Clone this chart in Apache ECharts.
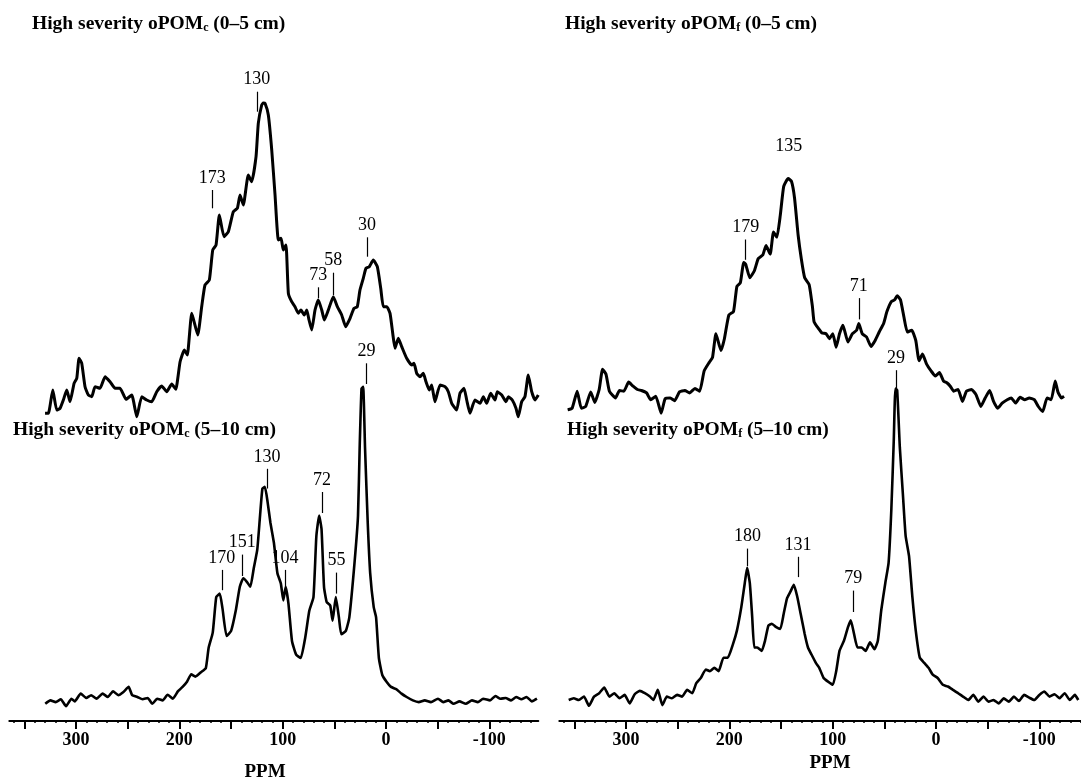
<!DOCTYPE html>
<html>
<head>
<meta charset="utf-8">
<script src="https://cdn.jsdelivr.net/npm/echarts@6/dist/echarts.min.js"></script>
<style>
  html, body { margin: 0; padding: 0; background: #fff; }
  #main { width: 1081px; height: 783px; }
</style>
</head>
<body>
<div id="main"></div>
<script>
// ppm axis (reversed, shared by both columns)
const ppmMin = -147.4;
const ppmMax = 364.6;
const majorTicks = [350, 300, 250, 200, 150, 100, 50, 0, -50, -100];
const labelTicks = [300, 200, 100, 0, -100];
const minorTicks = [];
for (let v = 360; v >= -140; v -= 10) minorTicks.push(v);

// High severity oPOMc (0-5 cm), intensity in arbitrary units
const tlPpm = [330.0, 326.8, 322.5, 318.7, 315.5, 312.3, 309.0, 305.8, 301.9, 299.3,
  297.1, 294.5, 291.3, 288.1, 284.8, 281.6, 276.8, 271.9, 267.1, 262.2,
  257.4, 251.6, 246.1, 241.2, 236.4, 231.6, 226.7, 221.9, 217.1, 212.2,
  207.4, 203.5, 199.3, 195.2, 192.3, 188.0, 182.2, 178.4, 175.2, 171.0,
  167.7, 164.5, 161.3, 156.8, 152.6, 147.8, 143.9, 141.3, 138.1, 133.3,
  130.0, 125.8, 123.6, 120.3, 118.7, 117.1, 113.9, 110.6, 107.4, 104.2,
  101.6, 99.4, 96.8, 94.5, 91.3, 88.1, 84.9, 82.3, 79.1, 76.7,
  74.5, 71.9, 68.7, 65.5, 62.2, 59.7, 55.8, 51.0, 47.1, 42.9,
  39.0, 34.8, 31.0, 27.8, 25.2, 22.0, 19.4, 16.2, 12.3, 8.4,
  5.1, 2.6, -0.7, -3.9, -6.5, -8.7, -11.9, -15.2, -20.0, -24.9,
  -27.1, -29.7, -32.9, -36.1, -38.7, -41.9, -44.2, -47.4, -52.3, -57.1,
  -60.3, -63.6, -68.4, -71.6, -75.5, -78.1, -81.3, -86.1, -91.0, -94.2,
  -97.4, -101.3, -105.5, -107.7, -112.0, -116.1, -118.4, -122.2, -125.8, -128.0,
  -131.3, -134.5, -137.7, -141.0, -144.2, -147.4];
const tlInt = [6.7, 6.7, 30, 10, 11.7, 20, 30, 18.3, 36.7, 41.7,
  61.7, 56.7, 33.3, 25, 23.3, 33.3, 31.7, 43.3, 38.3, 31.7,
  31.7, 20.7, 25, 3.3, 23.3, 20, 18.3, 28.3, 34, 28.3,
  36, 30.7, 58.3, 70, 65, 106.7, 85, 113.3, 135, 140,
  170, 175, 205, 183.3, 188.3, 208.3, 211.7, 225, 215, 245,
  238.3, 263.3, 296.7, 315, 317, 316.7, 305, 270, 225, 180,
  181.7, 170, 175, 126.7, 118.3, 113.3, 106.7, 110, 105, 110,
  100, 90, 110, 120, 110, 100, 110, 123.3, 113.3, 105,
  93.3, 101.7, 111.7, 113.3, 130, 141.7, 151.7, 153.3, 160, 153.3,
  131.7, 113.3, 113.3, 106.7, 86.7, 71.7, 81.7, 73.3, 61.7, 55,
  56.7, 46.7, 43.3, 46.7, 38.3, 30, 35, 18.3, 35, 33.3,
  28.3, 16.7, 10, 26.7, 31.7, 20, 6.7, 20, 16.7, 23.3,
  16.7, 26.7, 20, 28.3, 25, 18.3, 23.3, 20, 11.7, 3.3,
  18.3, 23.3, 45, 28.3, 20, 25];

// High severity oPOMc (5-10 cm)
const blPpm = [329.8, 324.8, 319.7, 314.7, 309.7, 304.5, 301.2, 295.5, 290.1, 285.4,
  280.1, 274.3, 269.2, 264.2, 259.1, 254.1, 249.1, 245.7, 240.7, 235.6,
  230.6, 226.2, 221.5, 216.1, 211.4, 206.3, 201.3, 196.9, 192.6, 188.5,
  184.5, 179.1, 174.4, 171.7, 167.7, 164.3, 160.9, 158.2, 154.3, 149.9,
  145.4, 141.5, 138.1, 134.7, 131.3, 128.0, 124.6, 121.9, 119.6, 117.2,
  114.6, 111.9, 108.5, 105.1, 101.8, 99.4, 97.1, 94.4, 91.0, 87.0,
  82.5, 78.2, 74.2, 70.2, 67.4, 64.7, 62.4, 60.0, 57.4, 54.0,
  51.7, 48.6, 45.6, 43.3, 38.9, 35.5, 30.5, 27.1, 25.5, 23.7,
  22.1, 20.3, 17.7, 15.3, 11.9, 9.6, 6.9, 3.6, -0.5, -4.8,
  -9.9, -15.0, -20.0, -26.0, -31.7, -37.5, -43.5, -50.3, -55.4, -60.4,
  -65.4, -71.1, -77.2, -83.2, -88.9, -94.0, -100.7, -105.8, -110.8, -115.8,
  -121.0, -126.0, -131.0, -136.1, -141.1, -146.1];
const blInt = [17.2, 20.6, 18.9, 21.7, 14.8, 22.3, 19.6, 27.4, 23.0, 25.8,
  22.3, 27.4, 24.0, 29.8, 25.8, 29.1, 34.1, 25.8, 24.0, 21.7,
  23.0, 17.2, 22.3, 20.6, 26.3, 22.3, 29.8, 34.1, 39.3, 46.7,
  44.4, 48.8, 52.9, 73.1, 88.4, 123.9, 127.4, 112.1, 85.0, 90.1,
  110.4, 134.2, 142.7, 139.2, 134.2, 152.8, 171.4, 205.4, 232.5, 234.1,
  218.9, 198.5, 178.2, 147.7, 137.6, 120.6, 134.2, 117.2, 80.0, 66.4,
  63.0, 83.3, 110.4, 123.9, 185.0, 205.4, 191.8, 134.2, 118.9, 115.6,
  100.2, 123.9, 103.7, 86.7, 90.1, 103.7, 157.9, 205.4, 273.1, 332.4,
  334.1, 273.1, 198.5, 147.7, 113.8, 103.7, 63.0, 46.0, 39.3, 34.1,
  31.8, 27.4, 24.0, 20.6, 18.9, 20.6, 18.9, 22.3, 18.9, 20.6,
  17.2, 19.6, 17.2, 20.6, 18.9, 22.3, 20.6, 25.0, 22.3, 23.0,
  20.6, 24.0, 21.7, 24.0, 19.6, 22.3];

// High severity oPOMf (0-5 cm)
const trPpm = [356.5, 352.2, 347.3, 343.3, 339.1, 334.2, 330.3, 326.0, 322.7, 319.4,
  316.1, 310.2, 306.4, 302.1, 297.5, 293.2, 289.0, 285.1, 280.1, 276.2,
  271.2, 266.0, 262.2, 257.2, 253.0, 248.3, 243.1, 238.5, 233.3, 228.7,
  224.4, 219.5, 216.3, 213.0, 208.1, 204.8, 200.5, 196.0, 192.7, 189.4,
  186.1, 184.2, 180.2, 175.9, 172.0, 167.7, 164.5, 160.5, 157.3, 154.0,
  150.7, 147.4, 143.1, 139.9, 136.9, 133.4, 130.3, 127.1, 122.8, 119.6,
  118.0, 113.7, 110.4, 106.4, 103.2, 99.9, 96.6, 93.4, 90.1, 85.2,
  80.9, 76.9, 74.7, 71.4, 67.2, 62.9, 58.9, 55.0, 50.7, 47.5,
  43.2, 40.0, 37.6, 34.4, 31.1, 27.8, 23.5, 19.6, 16.4, 13.1,
  9.1, 4.8, 0.6, -3.3, -7.3, -10.5, -13.8, -17.1, -21.4, -25.6,
  -29.5, -34.4, -38.7, -43.4, -47.6, -51.9, -55.7, -59.7, -64.0, -68.9,
  -72.8, -77.0, -81.3, -85.9, -90.2, -95.1, -99.0, -103.3, -107.5, -111.5,
  -115.4, -118.0, -121.4, -123.9];
const trInt = [10.1, 11.8, 28.8, 11.8, 13.5, 28.1, 17.6, 30.5, 50.8, 45.7,
  28.8, 22, 29.5, 28.8, 37.9, 33.8, 30.5, 29.5, 27.1, 20.3,
  23.7, 6.8, 21.3, 22, 19.3, 28.1, 29.5, 27.1, 31.5, 28.8,
  49.1, 57.6, 62.6, 86.3, 69.4, 81.3, 105, 108.4, 133.7, 137.1,
  157.5, 155.8, 142.2, 149, 161.5, 164.9, 174.4, 165.9, 187.9, 182.9,
  204.9, 233.6, 241.4, 238.7, 221.8, 184.5, 160.8, 142.2, 135.4, 113.4,
  98.2, 91.4, 87, 86.3, 81.3, 86.3, 72.8, 86.3, 94.8, 77.9,
  86.3, 89.7, 96.5, 86.3, 83, 73.5, 79.6, 88, 96.5, 108.4,
  118.5, 120.2, 124.3, 120.2, 103.3, 88, 89.7, 79.6, 59.3, 66,
  55.9, 49.1, 44, 47.4, 38.9, 37.2, 33.8, 28.8, 30.5, 18.6,
  28.8, 30.5, 25.4, 13.5, 22, 29.5, 18.6, 11.8, 16.9, 20.3,
  22, 16.9, 22.7, 20.3, 22, 20.3, 13.5, 8.5, 22, 20.3,
  38.9, 28.1, 22, 23.7];

// High severity oPOMf (5-10 cm)
const brPpm = [355.5, 350.6, 345.7, 340.7, 335.9, 331.0, 326.0, 321.1, 316.1, 311.3,
  306.4, 301.4, 296.5, 291.6, 286.7, 281.8, 276.9, 273.6, 269.3, 264.8,
  260.5, 255.6, 250.6, 245.7, 240.9, 235.9, 232.0, 227.7, 222.8, 218.9,
  214.6, 210.4, 205.7, 201.5, 196.5, 192.7, 188.4, 185.1, 182.8, 180.2,
  177.9, 175.9, 173.0, 168.7, 165.5, 162.2, 158.9, 154.6, 150.7, 147.4,
  144.2, 140.9, 137.6, 134.3, 131.0, 127.1, 123.9, 120.6, 116.3, 113.0,
  108.8, 104.8, 99.9, 96.6, 93.4, 89.1, 85.2, 82.5, 79.3, 76.0,
  72.1, 68.1, 63.9, 59.6, 56.3, 53.0, 49.1, 45.9, 43.2, 40.9,
  39.3, 37.6, 35.0, 32.0, 29.4, 26.1, 22.9, 19.6, 15.7, 11.4,
  7.2, 3.2, -1.6, -6.6, -11.5, -16.5, -21.4, -26.2, -31.2, -36.1,
  -41.0, -46.0, -50.8, -55.7, -60.7, -65.6, -70.5, -75.4, -80.3, -85.3,
  -90.2, -95.1, -100.0, -104.9, -109.8, -114.8, -119.6, -124.5, -129.5, -134.4,
  -137.7];
const brInt = [21, 22.7, 21, 24.4, 15.2, 24.4, 27.8, 33.5, 24.4, 27.8,
  22.7, 26.1, 17.6, 26.8, 30.1, 27.8, 24.4, 21, 31.1, 15.9,
  24.4, 22.7, 26.1, 24.4, 31.1, 27.8, 37.9, 43, 51.5, 49.8,
  53.2, 49.8, 63.3, 63.3, 76.9, 90.4, 114.1, 137.8, 153.1, 137.8,
  104, 73.5, 73.5, 70.1, 80.2, 95.5, 97.2, 93.8, 92.1, 107.3,
  122.6, 129.3, 136.1, 124.3, 107.3, 87, 73.5, 66.7, 58.2, 53.2,
  43, 39.6, 36.2, 49.8, 70.1, 80.2, 93.8, 100.6, 87, 73.5,
  73.5, 70.1, 78.6, 71.8, 80.2, 110.7, 137.8, 158.1, 212.3, 280,
  332.5, 330.8, 273.3, 225.9, 185.2, 164.9, 124.3, 90.4, 63.3, 58.2,
  53.2, 46.4, 43, 36.2, 34.5, 31.1, 27.8, 24.4, 21, 26.1,
  19.3, 24.4, 19.3, 21, 17.6, 22.7, 19.3, 24.4, 20, 26.1,
  23.4, 21, 26.1, 29.5, 24.4, 26.8, 22.7, 27.8, 21, 26.1,
  21];

// peak labels: [text, ppm, tick bottom, tick top]
const tlPeaks = [['130', 125.1, 308.3, 328.3], ['173', 168.1, 211.7, 230], ['73', 65.5, 121.7, 132.7],
  ['58', 51.0, 125, 147.3], ['30', 18.4, 163.3, 182.7]];
const blPeaks = [['170', 158.9, 130.8, 151.1], ['151', 139.1, 145.0, 166.4], ['130', 115.2, 232.5, 252.2],
  ['104', 97.7, 134.2, 151.1], ['72', 62.0, 208.0, 229.0], ['55', 47.9, 127.4, 148.4], ['29', 18.9, 337, 357.7]];
const trPeaks = [['179', 184.2, 160.2, 180.5], ['135', 142.5, 258, 262], ['71', 74.7, 100.6, 121.9]];
const brPeaks = [['180', 182.5, 154.8, 172.4], ['131', 133.6, 143.9, 164.2], ['79', 80.2, 109, 130.4],
  ['29', 38.6, 329.8, 350.8]];
const noTick = ['135'];

const serif = 'Liberation Serif';

function pair(ppm, val) {
  return ppm.map(function (p, i) { return [p, val[i]]; });
}

function peakLines(peaks) {
  return peaks.map(function (p) {
    const hide = noTick.indexOf(p[0]) >= 0;
    return [
      { name: p[0], coord: [p[1], p[2]], lineStyle: { color: hide ? 'rgba(0,0,0,0)' : '#000' } },
      { name: p[0], coord: [p[1], p[3]] }
    ];
  });
}

function spectrum(idx, ppm, val, peaks, width) {
  return {
    type: 'line',
    xAxisIndex: idx,
    yAxisIndex: idx,
    data: pair(ppm, val),
    showSymbol: false,
    smooth: 0.15,
    silent: true,
    lineStyle: { color: '#000', width: width },
    itemStyle: { color: '#000' },
    markLine: {
      silent: true,
      symbol: ['none', 'none'],
      animation: false,
      lineStyle: { color: '#000', width: 1.2, type: 'solid' },
      label: { show: true, position: 'end', distance: 3, formatter: '{b}', color: '#000', fontFamily: serif, fontSize: 18 },
      data: peakLines(peaks)
    }
  };
}

function hiddenX(idx) {
  return { gridIndex: idx, type: 'value', min: ppmMin, max: ppmMax, inverse: true, show: false };
}

function mainX(idx) {
  return {
    gridIndex: idx, type: 'value', min: ppmMin, max: ppmMax, inverse: true, position: 'bottom',
    axisLine: { onZero: false, lineStyle: { color: '#000', width: 2 } },
    axisTick: { customValues: majorTicks, length: 8, lineStyle: { color: '#000', width: 2 } },
    axisLabel: { customValues: labelTicks, margin: 10, color: '#000', fontFamily: serif, fontWeight: 'bold', fontSize: 18 },
    splitLine: { show: false }
  };
}

function minorX(idx) {
  return {
    gridIndex: idx, type: 'value', min: ppmMin, max: ppmMax, inverse: true, position: 'bottom', offset: 0,
    axisLine: { show: false, onZero: false },
    axisTick: { customValues: minorTicks, length: 2, lineStyle: { color: '#000', width: 1.5 } },
    axisLabel: { show: false },
    splitLine: { show: false }
  };
}

function hiddenY(idx, max) {
  return { gridIndex: idx, type: 'value', min: 0, max: max, show: false };
}

function titleText(text, x, y) {
  return {
    type: 'text', x: x, y: y, silent: true,
    style: {
      text: text, fill: '#000', fontFamily: serif, fontWeight: 'bold', fontSize: 19.5, verticalAlign: 'middle',
      rich: { s: { fontFamily: serif, fontWeight: 'bold', fontSize: 12, fill: '#000', verticalAlign: 'bottom', lineHeight: 12 } }
    }
  };
}

function ppmText(x, y) {
  return {
    type: 'text', x: x, y: y, silent: true,
    style: { text: 'PPM', fill: '#000', fontFamily: serif, fontWeight: 'bold', fontSize: 19, align: 'center', verticalAlign: 'middle' }
  };
}

const chart = echarts.init(document.getElementById('main'));
chart.setOption({
  animation: false,
  backgroundColor: '#fff',
  grid: [
    { left: 9.3, top: 60, width: 529, height: 360, outerBoundsMode: 'none' },
    { left: 9.3, top: 351, width: 529, height: 370, outerBoundsMode: 'none' },
    { left: 559.3, top: 60, width: 529, height: 360, outerBoundsMode: 'none' },
    { left: 559.3, top: 351, width: 529, height: 370, outerBoundsMode: 'none' }
  ],
  xAxis: [hiddenX(0), mainX(1), hiddenX(2), mainX(3), minorX(1), minorX(3)],
  yAxis: [hiddenY(0, 360), hiddenY(1, 370), hiddenY(2, 360), hiddenY(3, 370)],
  series: [
    spectrum(0, tlPpm, tlInt, tlPeaks, 3),
    spectrum(1, blPpm, blInt, blPeaks, 2.6),
    spectrum(2, trPpm, trInt, trPeaks, 3),
    spectrum(3, brPpm, brInt, brPeaks, 2.6)
  ],
  graphic: [
    titleText('High severity oPOM{s|c} (0–5 cm)', 32, 24),
    titleText('High severity oPOM{s|c} (5–10 cm)', 13, 430),
    titleText('High severity oPOM{s|f} (0–5 cm)', 565, 24),
    titleText('High severity oPOM{s|f} (5–10 cm)', 567, 430),
    ppmText(265, 772),
    ppmText(830, 763)
  ]
});
</script>
</body>
</html>
